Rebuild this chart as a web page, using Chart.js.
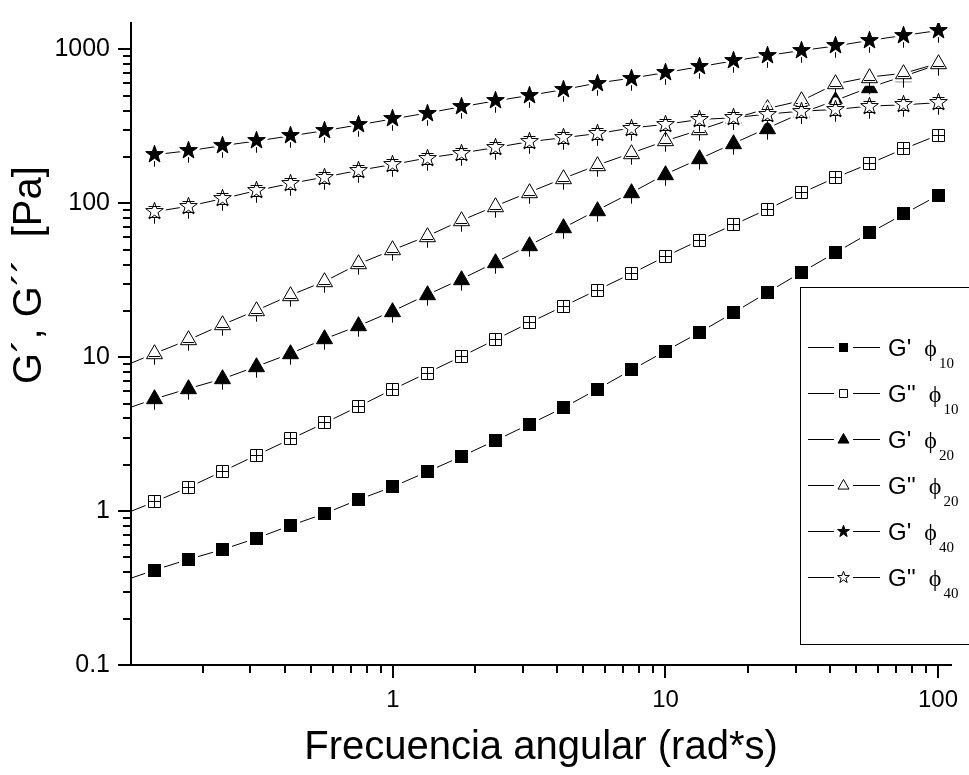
<!DOCTYPE html>
<html>
<head>
<meta charset="utf-8">
<script src="https://cdn.jsdelivr.net/npm/chart.js@4.4.0/dist/chart.umd.min.js"></script>
<style>
  html, body { margin: 0; padding: 0; background: #fff; }
  #wrap { width: 969px; height: 775px; }
</style>
</head>
<body>
<div id="wrap"><canvas id="chart" width="969" height="775"></canvas></div>
<script>
// frecuencia angular (8 puntos por década, 0.1 - 100)
const freq = [0.1, 0.1334, 0.1778, 0.2371, 0.3162, 0.4217, 0.5623, 0.7499,
  1, 1.334, 1.778, 2.371, 3.162, 4.217, 5.623, 7.499,
  10, 13.34, 17.78, 23.71, 31.62, 42.17, 56.23, 74.99, 100];

// G' y G'' para cada fracción (Pa)
const gp10  = [0.347, 0.414, 0.486, 0.563, 0.667, 0.807, 0.964, 1.19, 1.44, 1.80, 2.26, 2.87, 3.66,
  4.69, 6.19, 8.26, 10.95, 14.5, 19.45, 26.4, 35.7, 47.9, 64.2, 85.2, 112.4];
const gpp10 = [0.935, 1.149, 1.427, 1.813, 2.31, 2.94, 3.74, 4.80, 6.19, 7.89, 10.07, 12.97, 16.73,
  21.4, 27.3, 34.9, 45.1, 57.6, 72.5, 91.6, 116.9, 146.9, 181.3, 225.8, 277];
const gp20  = [4.48, 5.35, 6.25, 7.23, 8.71, 10.57, 13.16, 16.01, 19.94, 25.42, 32.1, 41.2, 53.3,
  69.1, 90.3, 117.1, 154.4, 194.5, 245.1, 308.2, 386.6, 466.3, 567.2, 669, 797];
const gpp20 = [8.56, 10.57, 12.97, 16.27, 20.17, 25.31, 31.14, 40.4, 49.8, 61.1, 77.2, 95.7, 117.9,
  144.8, 176.8, 211.7, 254.1, 299.4, 355.2, 412.9, 464.2, 597, 661, 699, 809];
const gp40  = [null, 206.8, 219.3, 236.9, 253.8, 274.2, 296.3, 323.4, 353.2, 385.5, 423.3, 462.1, 501.6,
  547.4, 603.9, 649.7, 706.3, 770.9, 841.7, 913.2, 982.6, 1052, 1144, 1232, 1324];
const gpp40 = [null, 88.1, 95.7, 107.1, 120.9, 134.6, 148.0, 163.7, 178.7, 196.8, 211.7, 230.1, 251.2,
  266.4, 283.6, 308.2, 325.8, 350.1, 359.4, 379.8, 396.8, 406.8, 428.2, 435.9, 450.8];

// leyenda
const seriesNames = ["G'", "G''", "G'", "G''", "G'", "G''"];
const seriesPhi   = ['10', '10', '20', '20', '40', '40'];
const yTickLabels = [0.1, 1, 10, 100, 1000];
const xTickLabels = [1, 10, 100];

const SANS = '"Liberation Sans", Arial, sans-serif';
const SERIF = '"Liberation Serif", "Times New Roman", serif';

// dibuja la forma del marcador
function shapePath(g, shape, c, s) {
  g.beginPath();
  if (shape === 'square') {
    g.rect(c - s, c - s, 2 * s, 2 * s);
  } else if (shape === 'triangle') {
    g.moveTo(c, c - s * 1.1);
    g.lineTo(c + s, c + s * 0.65);
    g.lineTo(c - s, c + s * 0.65);
    g.closePath();
  } else {
    for (let i = 0; i < 10; i++) {
      const r = i % 2 ? s * 0.5 : s * 1.25;
      const a = -Math.PI / 2 + i * Math.PI / 5;
      g.lineTo(c + r * Math.cos(a), c + r * Math.sin(a));
    }
    g.closePath();
  }
}

// marcador como imagen (estilo Origin, con barras de error)
function makeMarker(shape, filled, s, withBars) {
  const size = 31, c = 15.5;
  const cv = document.createElement('canvas');
  cv.width = size; cv.height = size;
  const g = cv.getContext('2d');
  const fs = (shape === 'square' && filled) ? s + 0.5 : s;
  if (withBars) {
    // halo blanco para cortar la línea cerca del marcador
    shapePath(g, shape, c, fs);
    g.strokeStyle = '#fff'; g.lineWidth = 6; g.lineJoin = 'round'; g.stroke();
  }
  shapePath(g, shape, c, fs);
  g.fillStyle = filled ? '#000' : '#fff';
  g.fill();
  if (!(shape === 'square' && filled)) {
    g.strokeStyle = '#000'; g.lineWidth = 1; g.lineJoin = 'miter';
    g.stroke();
  }
  if (withBars) {
    g.strokeStyle = '#000';
    g.lineWidth = 1;
    g.beginPath();
    if (shape === 'square' && !filled) {
      g.moveTo(c, c - s); g.lineTo(c, c + s);
      g.moveTo(c - s, c); g.lineTo(c + s, c);
    } else if (shape === 'triangle') {
      g.moveTo(c, c + s * 0.65); g.lineTo(c, c + s * 0.65 + 6);
      if (!filled) { g.moveTo(c - s * 0.7, c + 3); g.lineTo(c + s * 0.7, c + 3); }
    } else if (shape === 'star') {
      g.moveTo(c, c + s * 0.9); g.lineTo(c, c + s * 1.25 + 3);
      if (!filled) {
        g.moveTo(c - 6, c - 5); g.lineTo(c + 6, c - 5);
        g.moveTo(c - 6, c + 6); g.lineTo(c + 6, c + 6);
      }
    }
    g.stroke();
  }
  return cv;
}

const markerDefs = [
  ['square', true, 6], ['square', false, 6], ['triangle', true, 8],
  ['triangle', false, 8], ['star', true, 7.4], ['star', false, 7.4]
];
const legendDefs = [
  ['square', true, 4], ['square', false, 4], ['triangle', true, 5.5],
  ['triangle', false, 5.5], ['star', true, 5], ['star', false, 5]
];
const plotMarks = markerDefs.map(d => makeMarker(d[0], d[1], d[2], true));
const legendMarks = legendDefs.map(d => makeMarker(d[0], d[1], d[2], false));

function isDecade(v) {
  const l = Math.log10(v);
  return Math.abs(l - Math.round(l)) < 1e-6;
}

// marcadores nítidos: sin suavizado al copiar las imágenes
const crispPoints = {
  id: 'crispPoints',
  beforeDatasetsDraw(chart) { chart.ctx.imageSmoothingEnabled = false; },
  afterDatasetsDraw(chart) { chart.ctx.imageSmoothingEnabled = true; }
};

// marcas de los ejes: mayores y menores con largo distinto
const axisTicks = {
  id: 'axisTicks',
  afterDraw(chart) {
    const ctx = chart.ctx;
    const xs = chart.scales.x, ys = chart.scales.y;
    ctx.save();
    ctx.strokeStyle = '#000';
    ctx.lineWidth = 2;
    xs.ticks.forEach(t => {
      const sig = t.value / Math.pow(10, Math.floor(Math.log10(t.value) + 1e-9));
      if (Math.abs(sig - Math.round(sig)) > 1e-6) return;
      const px = Math.round(xs.getPixelForValue(t.value));
      const len = isDecade(t.value) ? 13 : 8;
      ctx.beginPath(); ctx.moveTo(px, xs.top); ctx.lineTo(px, xs.top + len); ctx.stroke();
    });
    ys.ticks.forEach(t => {
      const sig = t.value / Math.pow(10, Math.floor(Math.log10(t.value) + 1e-9));
      if (Math.abs(sig - Math.round(sig)) > 1e-6) return;
      const py = Math.round(ys.getPixelForValue(t.value));
      const len = isDecade(t.value) ? 13 : 8;
      ctx.beginPath(); ctx.moveTo(ys.right, py); ctx.lineTo(ys.right - len, py); ctx.stroke();
    });
    ctx.restore();
  }
};

// título del eje Y (girado, desplazado hacia arriba como en el original)
const yTitle = {
  id: 'yTitle',
  afterDraw(chart) {
    const ctx = chart.ctx;
    ctx.save();
    ctx.translate(30, 275);
    ctx.rotate(-Math.PI / 2);
    ctx.font = '40px ' + SANS;
    ctx.fillStyle = '#000';
    ctx.textAlign = 'center';
    ctx.textBaseline = 'middle';
    ctx.fillText('G´, G´´  [Pa]', 0, 0);
    ctx.restore();
  }
};

// leyenda con recuadro y subíndices
const boxLegend = {
  id: 'boxLegend',
  afterDraw(chart) {
    const ctx = chart.ctx;
    ctx.save();
    ctx.fillStyle = '#fff';
    ctx.fillRect(800, 287, 175, 358);
    ctx.strokeStyle = '#000';
    ctx.lineWidth = 1;
    ctx.strokeRect(800.5, 287.5, 175, 357);
    chart.data.datasets.forEach((ds, i) => {
      const cy = 347 + i * 46;
      ctx.beginPath();
      ctx.moveTo(808, cy + 0.5); ctx.lineTo(834, cy + 0.5);
      ctx.moveTo(853, cy + 0.5); ctx.lineTo(880, cy + 0.5);
      ctx.stroke();
      const m = legendMarks[i];
      ctx.drawImage(m, Math.round(843.5 - m.width / 2), Math.round(cy + 0.5 - m.height / 2));
      ctx.fillStyle = '#000';
      ctx.textBaseline = 'alphabetic';
      ctx.font = '24px ' + SANS;
      ctx.fillText(seriesNames[i], 888, cy + 9);
      const phiX = 888 + ctx.measureText(seriesNames[i]).width + 13;
      ctx.font = '24px ' + SERIF;
      ctx.fillText('ϕ', phiX, cy + 9);
      const subX = phiX + ctx.measureText('ϕ').width + 2;
      ctx.font = '15px ' + SERIF;
      ctx.fillText(seriesPhi[i], subX, cy + 21);
    });
    ctx.restore();
  }
};

const series = [gp10, gpp10, gp20, gpp20, gp40, gpp40];

new Chart(document.getElementById('chart'), {
  type: 'line',
  data: {
    labels: freq,
    datasets: series.map((vals, i) => ({
      label: seriesNames[i] + ' ϕ' + seriesPhi[i],
      data: vals,
      borderColor: '#000',
      borderWidth: 1,
      backgroundColor: '#000',
      pointStyle: plotMarks[i],
      pointRadius: 7,
      pointHoverRadius: 7,
      tension: 0,
      fill: false,
      spanGaps: false,
      order: series.length - 1 - i
    }))
  },
  options: {
    responsive: false,
    animation: false,
    layout: { padding: { top: 8, right: 18, left: 0, bottom: 0 } },
    plugins: {
      legend: { display: false },
      tooltip: { enabled: false }
    },
    scales: {
      x: {
        type: 'logarithmic',
        min: 0.1093,
        max: 111.6,
        afterFit: s => { s.height = 110; },
        border: { display: true, color: '#000', width: 2 },
        grid: { display: false, drawTicks: true, tickLength: 13 },
        ticks: {
          autoSkip: false, maxRotation: 0, minRotation: 0, padding: 8, color: '#000',
          font: { family: SANS, size: 24 },
          callback: v => xTickLabels.some(t => Math.abs(t - v) < 1e-9 * t) ? String(v) : ''
        },
        title: {
          display: true, text: 'Frecuencia angular (rad*s)', color: '#000',
          font: { family: SANS, size: 40 }, padding: { top: 0, bottom: 3 }
        }
      },
      y: {
        type: 'logarithmic',
        min: 0.1,
        max: 1483,
        afterFit: s => { s.width = 131; },
        border: { display: true, color: '#000', width: 2 },
        grid: { display: false, drawTicks: true, tickLength: 13 },
        ticks: {
          autoSkip: false, padding: 8, color: '#000',
          font: { family: SANS, size: 25 },
          callback: v => {
            const hit = yTickLabels.find(t => Math.abs(t - v) < 1e-9 * t);
            return hit !== undefined ? String(hit) : '';
          }
        }
      }
    }
  },
  plugins: [crispPoints, axisTicks, yTitle, boxLegend]
});
</script>
</body>
</html>
